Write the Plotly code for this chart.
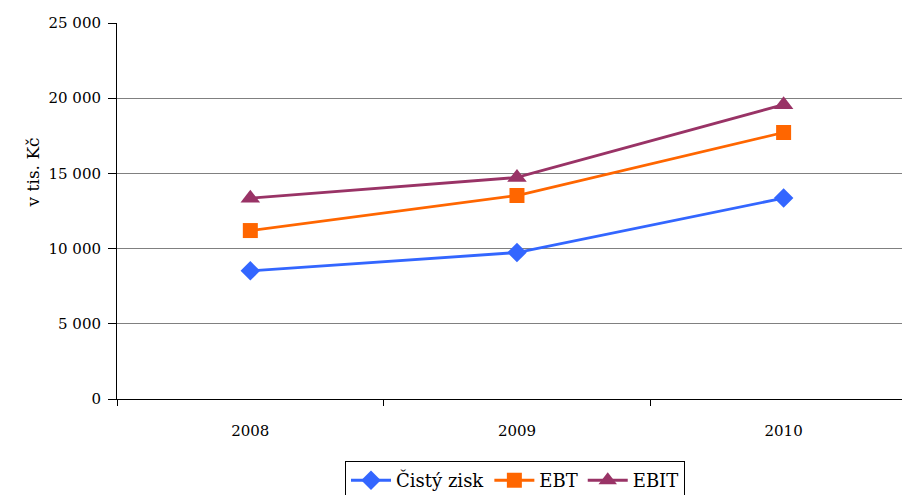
import plotly.graph_objects as go

years = ["2008", "2009", "2010"]
cisty_zisk = [8520, 9740, 13360]
ebt = [11200, 13530, 17720]
ebit = [13350, 14730, 19570]

FONT = "DejaVu Serif"

fig = go.Figure()
fig.add_trace(go.Scatter(
    x=years, y=cisty_zisk, name="Čistý zisk", mode="lines+markers",
    line=dict(color="#3366FF", width=2.8),
    marker=dict(symbol="diamond", size=15, color="#3366FF"),
))
fig.add_trace(go.Scatter(
    x=years, y=ebt, name="EBT", mode="lines+markers",
    line=dict(color="#FF6600", width=2.8),
    marker=dict(symbol="square", size=15, color="#FF6600"),
))
fig.add_trace(go.Scatter(
    x=years, y=ebit, name="EBIT", mode="lines+markers",
    line=dict(color="#993366", width=2.8),
    marker=dict(symbol="triangle-up", size=17, color="#993366"),
))

fig.update_layout(
    width=902, height=495,
    margin=dict(l=117, r=0, t=23, b=96, autoexpand=False),
    paper_bgcolor="white", plot_bgcolor="white",
    separators=", ",
    font=dict(family=FONT, size=15, color="black"),
    showlegend=True,
    legend=dict(
        orientation="h", x=0.507, xanchor="center", y=-0.165, yanchor="top",
        bordercolor="black", borderwidth=1, font=dict(family=FONT, size=18),
        itemwidth=40, tracegroupgap=0,
    ),
    xaxis=dict(
        type="category", range=[-0.5, 2.444], tickson="boundaries",
        ticks="outside", ticklen=6, tickcolor="black",
        showline=True, linecolor="black", linewidth=1,
        showgrid=False, tickfont=dict(family=FONT, size=15),
        ticklabelstandoff=18,
    ),
    yaxis=dict(
        range=[0, 25000], tickvals=[0, 5000, 10000, 15000, 20000, 25000],
        tickformat=",d", ticks="outside", ticklen=8, tickcolor="black",
        showline=True, linecolor="black", linewidth=1,
        showgrid=True, gridcolor="#808080", gridwidth=1,
        zeroline=False, tickfont=dict(family=FONT, size=15),
        ticklabelstandoff=4,
    ),
    annotations=[dict(
        text="v tis. Kč", textangle=-90, xref="paper", yref="paper",
        x=-0.1065, y=(399 - 172) / 376, xanchor="center", yanchor="middle",
        showarrow=False, font=dict(family=FONT, size=17),
    )],
)

fig.write_html("out.html")
